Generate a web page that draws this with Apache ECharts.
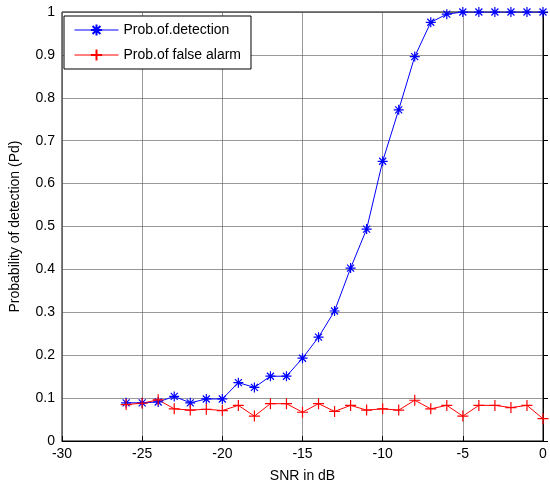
<!DOCTYPE html>
<html><head><meta charset="utf-8">
<script src="https://cdn.jsdelivr.net/npm/echarts@6/dist/echarts.min.js"></script>
<style>html,body{margin:0;padding:0;background:#fff}#c{width:550px;height:488px}</style>
</head><body><div id="c"></div>
<script>
const snr = [-26,-25,-24,-23,-22,-21,-20,-19,-18,-17,-16,-15,-14,-13,-12,-11,-10,-9,-8,-7,-6,-5,-4,-3,-2,-1,0];
const pd = [0.089,0.089,0.091,0.104,0.089,0.098,0.098,0.136,0.125,0.151,0.151,0.193,0.242,0.303,0.403,0.494,0.652,0.772,0.896,0.976,0.995,1,1,1,1,1,1];
const pfa = [0.085,0.088,0.096,0.075,0.072,0.074,0.071,0.083,0.058,0.087,0.087,0.067,0.087,0.069,0.083,0.072,0.075,0.072,0.095,0.075,0.083,0.058,0.083,0.083,0.078,0.083,0.052];
const xTicks = [-30,-25,-20,-15,-10,-5,0];
const yTicks = [0,0.1,0.2,0.3,0.4,0.5,0.6,0.7,0.8,0.9,1];
const seriesNames = ['Prob.of.detection','Prob.of false alarm'];

const font = 'Liberation Sans, Arial, sans-serif';
const star = 'path://M0,-5L0,5M-5,0L5,0M-3.5,-3.5L3.5,3.5M-3.5,3.5L3.5,-3.5';
const plus = 'path://M0,-5L0,5M-5,0L5,0';
const chart = echarts.init(document.getElementById('c'));
chart.setOption({
  animation:false,
  grid:{left:61,right:7,top:12,bottom:47,show:true,borderColor:'#000',borderWidth:1},
  legend:{
    left:64,top:16,orient:'vertical',
    data:seriesNames,
    backgroundColor:'#fff',borderColor:'#000',borderWidth:1,
    padding:[7,10,7,10],itemGap:11,itemWidth:44,itemHeight:14,
    lineStyle:{width:1},
    textStyle:{fontFamily:font,fontSize:14,color:'#000'}
  },
  xAxis:{
    type:'value',min:xTicks[0],max:xTicks[xTicks.length-1],interval:5,
    name:'SNR in dB',nameLocation:'middle',nameGap:28,
    nameTextStyle:{fontFamily:font,fontSize:14,color:'#000'},
    axisLine:{lineStyle:{color:'#000'}},
    axisTick:{inside:true,length:5,lineStyle:{color:'#000'}},
    axisLabel:{fontFamily:font,fontSize:14,color:'#000',margin:6},
    splitLine:{show:true,lineStyle:{color:'#555',width:1,opacity:0.6}}
  },
  yAxis:{
    type:'value',min:yTicks[0],max:yTicks[yTicks.length-1],interval:0.1,
    name:'Probability of detection (Pd)',nameLocation:'middle',nameGap:40,
    nameTextStyle:{fontFamily:font,fontSize:14,color:'#000'},
    axisLine:{show:true,lineStyle:{color:'#000'}},
    axisTick:{show:true,inside:true,length:5,lineStyle:{color:'#000'}},
    axisLabel:{fontFamily:font,fontSize:14,color:'#000',margin:7,formatter:v=>String(Math.round(v*10)/10)},
    splitLine:{show:true,lineStyle:{color:'#555',width:1,opacity:0.6}}
  },
  series:[
    {name:seriesNames[0],type:'line',data:snr.map((x,i)=>[x,pd[i]]),
     symbol:star,symbolSize:10,showAllSymbol:true,
     lineStyle:{color:'#0000ff',width:1},
     itemStyle:{color:'#0000ff',borderColor:'#0000ff',borderWidth:1.2},
     emphasis:{disabled:true}},
    {name:seriesNames[1],type:'line',data:snr.map((x,i)=>[x,pfa[i]]),
     symbol:plus,symbolSize:11,showAllSymbol:true,
     lineStyle:{color:'#ff0000',width:1},
     itemStyle:{color:'#ff0000',borderColor:'#ff0000',borderWidth:1.2},
     emphasis:{disabled:true}}
  ]
});
</script></body></html>
